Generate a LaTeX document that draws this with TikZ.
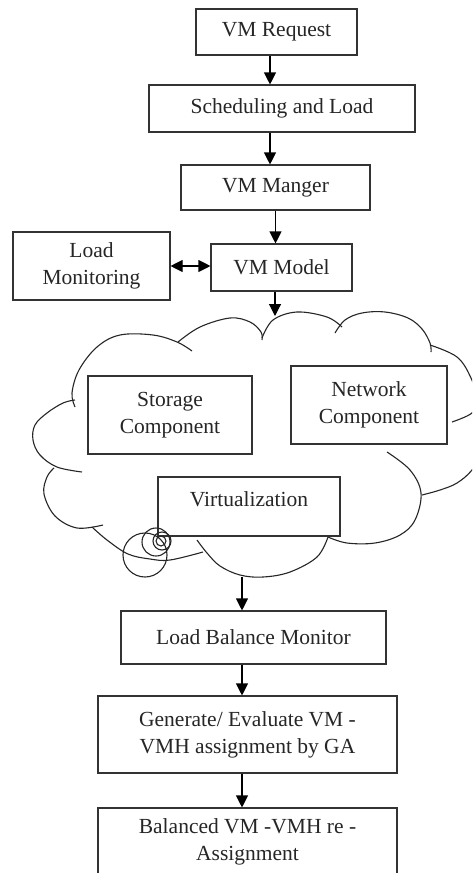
\documentclass[tikz,border=0pt]{standalone}
\usepackage{fontspec}
\setmainfont{Liberation Serif}
\usetikzlibrary{arrows.meta}
\begin{document}
\begin{tikzpicture}[x=1pt,y=-1pt,
  box/.style={draw=black!80, line width=1.1pt, align=center, inner sep=0pt,
    font=\fontsize{21.5}{27}\selectfont, text=black!85},
  arr/.style={-{Triangle[length=12pt,width=12pt]}, line width=1.1pt},
  darr/.style={{Triangle[length=12pt,width=12pt]}-{Triangle[length=12pt,width=12pt]}, line width=1.1pt},
  cl/.style={line width=1.1pt, black!85},
  bump/.style={cl, smooth, tension=0.6}]
\useasboundingbox (0,0) rectangle (472,873);
\clip (0,0) rectangle (472,873);
\fill[white] (0,0) rectangle (472,873);

% top boxes
\node[box, minimum width=161pt, minimum height=46pt] (req) at (276.5,32) {VM Request};
\node[box, minimum width=266pt, minimum height=47pt] (sched) at (282,108.5) {Scheduling and Load};
\node[box, minimum width=189pt, minimum height=45pt] (mgr) at (275.5,187.5) {VM Manger};
\node[box, minimum width=141pt, minimum height=47pt] (model) at (281.5,267.5) {VM Model};
\node[box, minimum width=157pt, minimum height=68pt] (lmon) at (91.5,266) {Load\\Monitoring};

% cloud
\draw[bump] plot coordinates {(192,351) (177,342) (153,335) (120,335) (97,347) (79,370) (72,393) (75,407)};
\draw[bump] plot coordinates {(178,342) (200,327) (230,318) (250,322) (261,332) (262,340)};
\draw[bump] plot coordinates {(262,338) (273,320) (297,312) (327,317) (342,327)};
\draw[bump] plot coordinates {(335,333) (345,320) (362,313) (385,312) (408,318) (422,329) (430,343) (431,352)};
\draw[bump] plot coordinates {(430,345) (457,357) (471,378) (477,400) (472,413) (452,422)};
\draw[bump] plot coordinates {(488,420) (484,450) (472,470) (457,483) (440,490) (422,495)};
\draw[bump] plot coordinates {(387,452) (410,470) (421,493) (415,520) (400,535) (375,543) (347,543) (328,537)};
\draw[bump] plot coordinates {(328,537) (317,557) (290,572) (263,577) (240,575) (220,566) (207,553) (197,540)};
\draw[bump] plot coordinates {(203,552) (170,560) (150,559) (128,554) (107,540) (92,527)};
\draw[bump] plot coordinates {(103,525) (77,528) (55,516) (44,494) (47,477) (54,468)};
\draw[bump] plot coordinates {(82,472) (57,467) (40,455) (33,440) (35,425) (47,413) (63,403) (75,400)};

\coordinate (ctop) at (275,316);
\coordinate (cbot) at (242,577);

% inner boxes
\node[box, fill=white, minimum width=164pt, minimum height=78pt] (stor) at (170,415) {Storage\\Component};
\node[box, fill=white, minimum width=156pt, minimum height=78pt] (net) at (369,405) {Network\\Component};
\node[box, fill=white, minimum width=182pt, minimum height=59pt, text height=15pt, text depth=15pt] (virt) at (249,506.5) {Virtualization};

% small circles
\draw[cl] (145,555) circle (22);
\draw[cl] (156,542) circle (14);
\draw[cl] (162,541) circle (9);
\draw[cl] (161,541) circle (5);

% bottom boxes
\node[box, minimum width=265pt, minimum height=53pt] (lbm) at (253.5,637.5) {Load Balance Monitor};
\node[box, minimum width=299pt, minimum height=77pt] (gen) at (247.5,734.5) {Generate/ Evaluate VM -\\VMH assignment by GA};
\node[box, minimum width=299pt, minimum height=68pt] (bal) at (247.5,842) {Balanced VM -VMH re -\\Assignment};

% connectors
\draw[arr] ([xshift=-6.5pt]req.south) -- ([xshift=-6.5pt]req.south |- sched.north);
\draw[arr] ([xshift=-12pt]sched.south) -- ([xshift=-12pt]sched.south |- mgr.north);
\draw[arr] (mgr.south) -- (mgr.south |- model.north);
\draw[darr] (lmon.east) -- (lmon.east -| model.west);
\draw[arr] ([xshift=-6.5pt]model.south) -- (ctop);
\draw[arr] (cbot) -- (cbot |- lbm.north);
\draw[arr] ([xshift=-11.5pt]lbm.south) -- ([xshift=-11.5pt]lbm.south |- gen.north);
\draw[arr] ([xshift=-5.5pt]gen.south) -- ([xshift=-5.5pt]gen.south |- bal.north);
\end{tikzpicture}
\end{document}
